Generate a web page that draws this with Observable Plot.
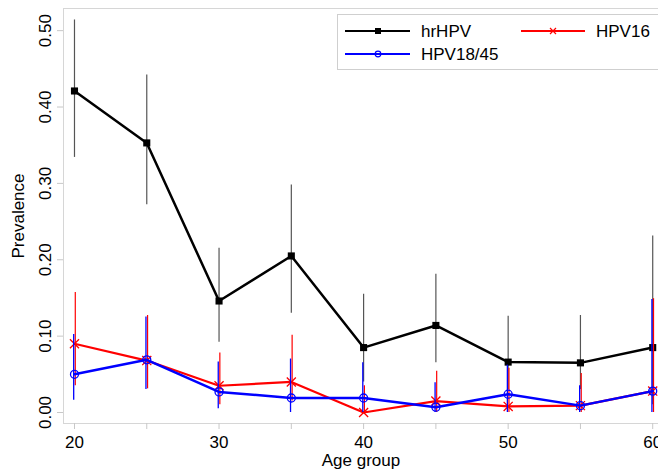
<!DOCTYPE html>
<html>
<head>
<meta charset="utf-8">
<script src="https://cdn.jsdelivr.net/npm/d3@7"></script>
<script src="https://cdn.jsdelivr.net/npm/@observablehq/plot@0.6"></script>
<style>
  html, body { margin: 0; padding: 0; background: #fff; }
  #wrap { position: relative; width: 658px; height: 472px; overflow: hidden; font-family: "Liberation Sans", Arial, sans-serif; }
  #legend { position: absolute; left: 337px; top: 14px; width: 330px; height: 56px; border: 1px solid #cfcfcf; background: #fff; box-sizing: border-box; }
</style>
</head>
<body>
<div id="wrap"><div id="chart"></div><div id="legend"></div></div>
<script>
const ages = [20, 25, 30, 35, 40, 45, 50, 55, 60];
const hrHPV   = [0.421, 0.353, 0.146, 0.205, 0.085, 0.114, 0.066, 0.065, 0.085];
const hrLo    = [0.334, 0.272, 0.092, 0.130, 0.040, 0.065, 0.030, 0.030, 0.010];
const hrHi    = [0.514, 0.442, 0.215, 0.298, 0.155, 0.181, 0.126, 0.127, 0.231];
const hpv16   = [0.090, 0.068, 0.035, 0.040, 0.000, 0.015, 0.008, 0.009, 0.028];
const hpv16Lo = [0.035, 0.031, 0.010, 0.015, 0.000, 0.000, 0.000, 0.000, 0.000];
const hpv16Hi = [0.157, 0.127, 0.078, 0.101, 0.035, 0.054, 0.058, 0.051, 0.149];
const hpv1845   = [0.050, 0.069, 0.027, 0.019, 0.019, 0.007, 0.024, 0.009, 0.028];
const hpv1845Lo = [0.016, 0.030, 0.005, 0.000, 0.000, 0.000, 0.000, 0.000, 0.000];
const hpv1845Hi = [0.102, 0.125, 0.066, 0.070, 0.065, 0.039, 0.062, 0.035, 0.148];
const yTicks = [0, 0.1, 0.2, 0.3, 0.4, 0.5];
const xTicks = [20, 25, 30, 35, 40, 45, 50, 55, 60];
const seriesNames = ["hrHPV", "HPV16", "HPV18/45"];

const mk = (v, lo, hi) => ages.map((a, i) => ({age: a, v: v[i], lo: lo[i], hi: hi[i]}));
const dHr = mk(hrHPV, hrLo, hrHi);
const d16 = mk(hpv16, hpv16Lo, hpv16Hi);
const d1845 = mk(hpv1845, hpv1845Lo, hpv1845Hi);

const font = "Liberation Sans, Arial, sans-serif";
const chart = Plot.plot({
  width: 658, height: 472,
  marginLeft: 63, marginTop: 8, marginBottom: 49, marginRight: 0,
  style: {fontFamily: font, fontSize: "17px", background: "#fff"},
  x: {domain: [19.24, 60.4]},
  y: {domain: [-0.0144, 0.529]},
  marks: [
    Plot.frame({stroke: "#d6d6d6"}),
    Plot.axisX({ticks: xTicks, tickFormat: d => d % 10 === 0 ? String(d) : "", tickSize: 6, tickPadding: 6, stroke: "#c8c8c8", fill: "#000", fontSize: 17, label: null}),
    Plot.axisY({ticks: yTicks, tickFormat: () => "", tickSize: 6, stroke: "#c8c8c8", label: null}),
    Plot.text(yTicks, {y: d => d, text: d => d.toFixed(2), frameAnchor: "left", textAnchor: "middle", lineAnchor: "middle", dx: -18, rotate: -90, fontSize: 17, fill: "#000"}),
    Plot.text(["Age group"], {frameAnchor: "bottom", textAnchor: "middle", lineAnchor: "middle", dy: 37, fontSize: 17, fill: "#000"}),
    Plot.text(["Prevalence"], {frameAnchor: "left", textAnchor: "middle", lineAnchor: "middle", dx: -45, rotate: -90, fontSize: 17, fill: "#000"}),
    // hrHPV
    Plot.ruleX(dHr, {x: "age", y1: "lo", y2: "hi", stroke: "#555", strokeWidth: 1.2}),
    Plot.line(dHr, {x: "age", y: "v", stroke: "#000", strokeWidth: 2.5}),
    Plot.dot(dHr, {x: "age", y: "v", symbol: "square", r: 4, fill: "#000", stroke: "none"}),
    // HPV16
    Plot.ruleX(d16, {x: "age", y1: "lo", y2: "hi", stroke: "#ff0000", strokeWidth: 1.2, dx: 0.8}),
    Plot.line(d16, {x: "age", y: "v", stroke: "#ff0000", strokeWidth: 2.2}),
    Plot.dot(d16, {x: "age", y: "v", symbol: "times", r: 4.2, stroke: "#ff0000", strokeWidth: 1.3, fill: "none"}),
    // HPV18/45
    Plot.ruleX(d1845, {x: "age", y1: "lo", y2: "hi", stroke: "#0000ff", strokeWidth: 1.3, dx: -0.8}),
    Plot.line(d1845, {x: "age", y: "v", stroke: "#0000ff", strokeWidth: 2.5}),
    Plot.dot(d1845, {x: "age", y: "v", symbol: "circle", r: 4, stroke: "#0000ff", strokeWidth: 1.3, fill: "none"})
  ]
});
document.getElementById("chart").appendChild(chart);

// Legend
const leg = d3.select("#legend").append("svg").attr("width", 330).attr("height", 56)
  .style("font-family", font).style("font-size", "17px");
const items = [
  {name: seriesNames[0], color: "#000", x0: 7, x1: 72, mx: 40, y: 16, sym: "square", tx: 83},
  {name: seriesNames[1], color: "#ff0000", x0: 183, x1: 247, mx: 215, y: 16, sym: "times", tx: 258},
  {name: seriesNames[2], color: "#0000ff", x0: 7, x1: 72, mx: 40, y: 39, sym: "circle", tx: 83}
];
for (const it of items) {
  leg.append("line").attr("x1", it.x0).attr("x2", it.x1).attr("y1", it.y).attr("y2", it.y)
    .attr("stroke", it.color).attr("stroke-width", 2);
  if (it.sym === "square") {
    leg.append("rect").attr("x", it.mx - 3).attr("y", it.y - 3).attr("width", 6).attr("height", 6).attr("fill", it.color);
  } else if (it.sym === "circle") {
    leg.append("circle").attr("cx", it.mx).attr("cy", it.y).attr("r", 2.8).attr("fill", "none").attr("stroke", it.color).attr("stroke-width", 1.2);
  } else {
    leg.append("path").attr("d", `M${it.mx-3},${it.y-3}L${it.mx+3},${it.y+3}M${it.mx-3},${it.y+3}L${it.mx+3},${it.y-3}`)
      .attr("stroke", it.color).attr("stroke-width", 1.2);
  }
  leg.append("text").attr("x", it.tx).attr("y", it.y).attr("dy", "0.35em").attr("fill", "#000").text(it.name);
}
</script>
</body>
</html>
